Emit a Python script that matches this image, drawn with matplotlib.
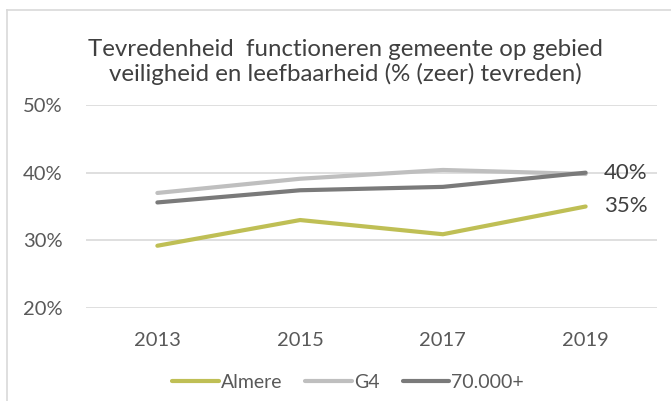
import matplotlib
matplotlib.use("Agg")
import matplotlib.pyplot as plt
from matplotlib.lines import Line2D

# data
years = ["2013", "2015", "2017", "2019"]
almere = [29.2, 33.0, 30.9, 35.0]
g4 = [37.0, 39.1, 40.4, 39.8]
plus70k = [35.6, 37.4, 37.9, 40.0]
series_names = ["Almere", "G4", "70.000+"]
series_colors = ["#BFBF55", "#BFBFBF", "#7A7A7A"]
end_labels = ["35%", "40%"]
yticks = [20, 30, 40, 50]
title = "Tevredenheid  functioneren gemeente op gebied\nveiligheid en leefbaarheid (% (zeer) tevreden)"

plt.rcParams['font.family'] = ['Lato', 'DejaVu Sans']
text_col = "#595959"

W, H = 671, 401
fig = plt.figure(figsize=(W / 100, H / 100), dpi=100)

# outer chart frame (cropped screenshot: only left and top edge visible)
fig.add_artist(Line2D([7 / W, 7 / W], [0, 1 - 10 / H], transform=fig.transFigure,
                      color="#D9D9D9", lw=1.2))
fig.add_artist(Line2D([7 / W, 1], [1 - 10 / H, 1 - 10 / H], transform=fig.transFigure,
                      color="#D9D9D9", lw=1.2))

ax = fig.add_axes([86 / W, (H - 308) / H, (657 - 86) / W, (308 - 105) / H])
x = range(len(years))

for yv in yticks:
    ax.axhline(yv, color="#D9D9D9", lw=1.2, zorder=0)

lw = 3.0
for vals, name, col in zip([almere, g4, plus70k], series_names, series_colors):
    ax.plot(x, vals, color=col, lw=lw, solid_capstyle="round", label=name, zorder=2)

# end-point labels
ax.text(3.13, almere[-1], end_labels[0], ha="left", va="center", fontsize=16, color="#404040")
ax.text(3.13, plus70k[-1], end_labels[1], ha="left", va="center", fontsize=16, color="#404040")

ax.set_xlim(-0.5, 3.5)
ax.set_ylim(20, 50)
ax.set_yticks(yticks)
ax.set_yticklabels([f"{v}%" for v in yticks])
ax.set_xticks(list(x))
ax.set_xticklabels(years)
ax.tick_params(axis="both", length=0, labelsize=14.5, colors=text_col)
ax.tick_params(axis="y", pad=17)
ax.tick_params(axis="x", pad=17)
for s in ax.spines.values():
    s.set_visible(False)

fig.text(345 / W, 1 - 62 / H, title, ha="center", va="center", fontsize=17.3,
         color="#404040", linespacing=1.15)

leg = fig.legend(loc="center", bbox_to_anchor=(348 / W, 1 - 382 / H), ncol=3,
                 frameon=False, fontsize=14, handlelength=2.4, handletextpad=0.1,
                 columnspacing=1.2, labelcolor=text_col)

fig.savefig("out.png", dpi=100)
